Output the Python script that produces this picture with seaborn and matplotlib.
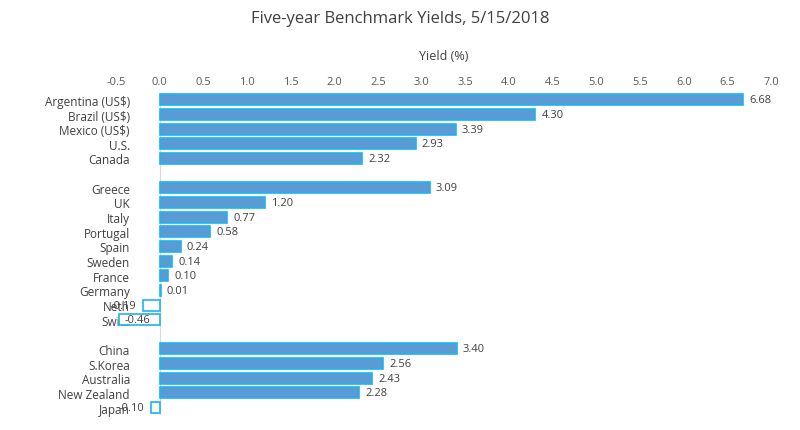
import pandas as pd
import matplotlib
matplotlib.use("Agg")
import matplotlib.pyplot as plt
import seaborn as sns

# Data
countries = ["Argentina (US$)", "Brazil (US$)", "Mexico (US$)", "U.S.", "Canada", " ",
             "Greece", "UK", "Italy", "Portugal", "Spain", "Sweden", "France", "Germany",
             "Neth", "Switz", "  ",
             "China", "S.Korea", "Australia", "New Zealand", "Japan"]
yields = [6.68, 4.30, 3.39, 2.93, 2.32, None,
          3.09, 1.20, 0.77, 0.58, 0.24, 0.14, 0.10, 0.01,
          -0.19, -0.46, None,
          3.40, 2.56, 2.43, 2.28, -0.10]
x_ticks = [-0.5, 0.0, 0.5, 1.0, 1.5, 2.0, 2.5, 3.0, 3.5, 4.0, 4.5, 5.0, 5.5, 6.0, 6.5, 7.0]

df = pd.DataFrame({"country": countries, "yield": yields})

sns.set_style("white")
plt.rcParams["font.family"] = ["Open Sans", "DejaVu Sans"]

fig = plt.figure(figsize=(8.0, 4.31), dpi=100)
ax = fig.add_axes([0.145, 0.035, 0.819, 0.748])

sns.barplot(data=df, x="yield", y="country", order=countries, ax=ax,
            color="#5B9BD5", edgecolor="#1EB4EC", linewidth=1.2, width=0.75,
            saturation=1)

# negative bars are drawn hollow
for patch in ax.patches:
    if patch.get_width() < 0 or patch.get_x() < 0:
        patch.set_facecolor("white")

for i, v in enumerate(yields):
    if v is None:
        continue
    if v >= 0:
        ax.text(v + 0.07, i, f"{v:.2f}", va="center", ha="left", fontsize=8, color="#404040")
    elif v < -0.3:
        ax.text(v / 2 - 0.03, i, f"{v:.2f}", va="center", ha="center", fontsize=8, color="#404040")
    else:
        ax.text(v - 0.08, i, f"{v:.2f}", va="center", ha="right", fontsize=8, color="#404040")

ax.set_xlim(-0.5, 7.0)
ax.set_ylim(len(countries) - 0.5, -0.5)
ax.set_xticks(x_ticks)
ax.set_xticklabels([f"{t:.1f}" for t in x_ticks], fontsize=8, color="#595959")
ax.xaxis.tick_top()
ax.xaxis.set_label_position("top")
ax.set_xlabel("Yield (%)", fontsize=9, color="#404040", labelpad=12)
ax.set_ylabel("")
ax.tick_params(axis="y", labelsize=8.5, labelcolor="#404040", length=0, pad=-10)
ax.tick_params(axis="x", length=0, pad=4)
ax.axvline(0, color="#D9D9D9", linewidth=0.8, zorder=0)
for s in ax.spines.values():
    s.set_visible(False)

fig.text(0.5, 0.955, "Five-year Benchmark Yields, 5/15/2018", ha="center", va="center",
         fontsize=12, color="#404040")

fig.savefig("out.png", dpi=100)
